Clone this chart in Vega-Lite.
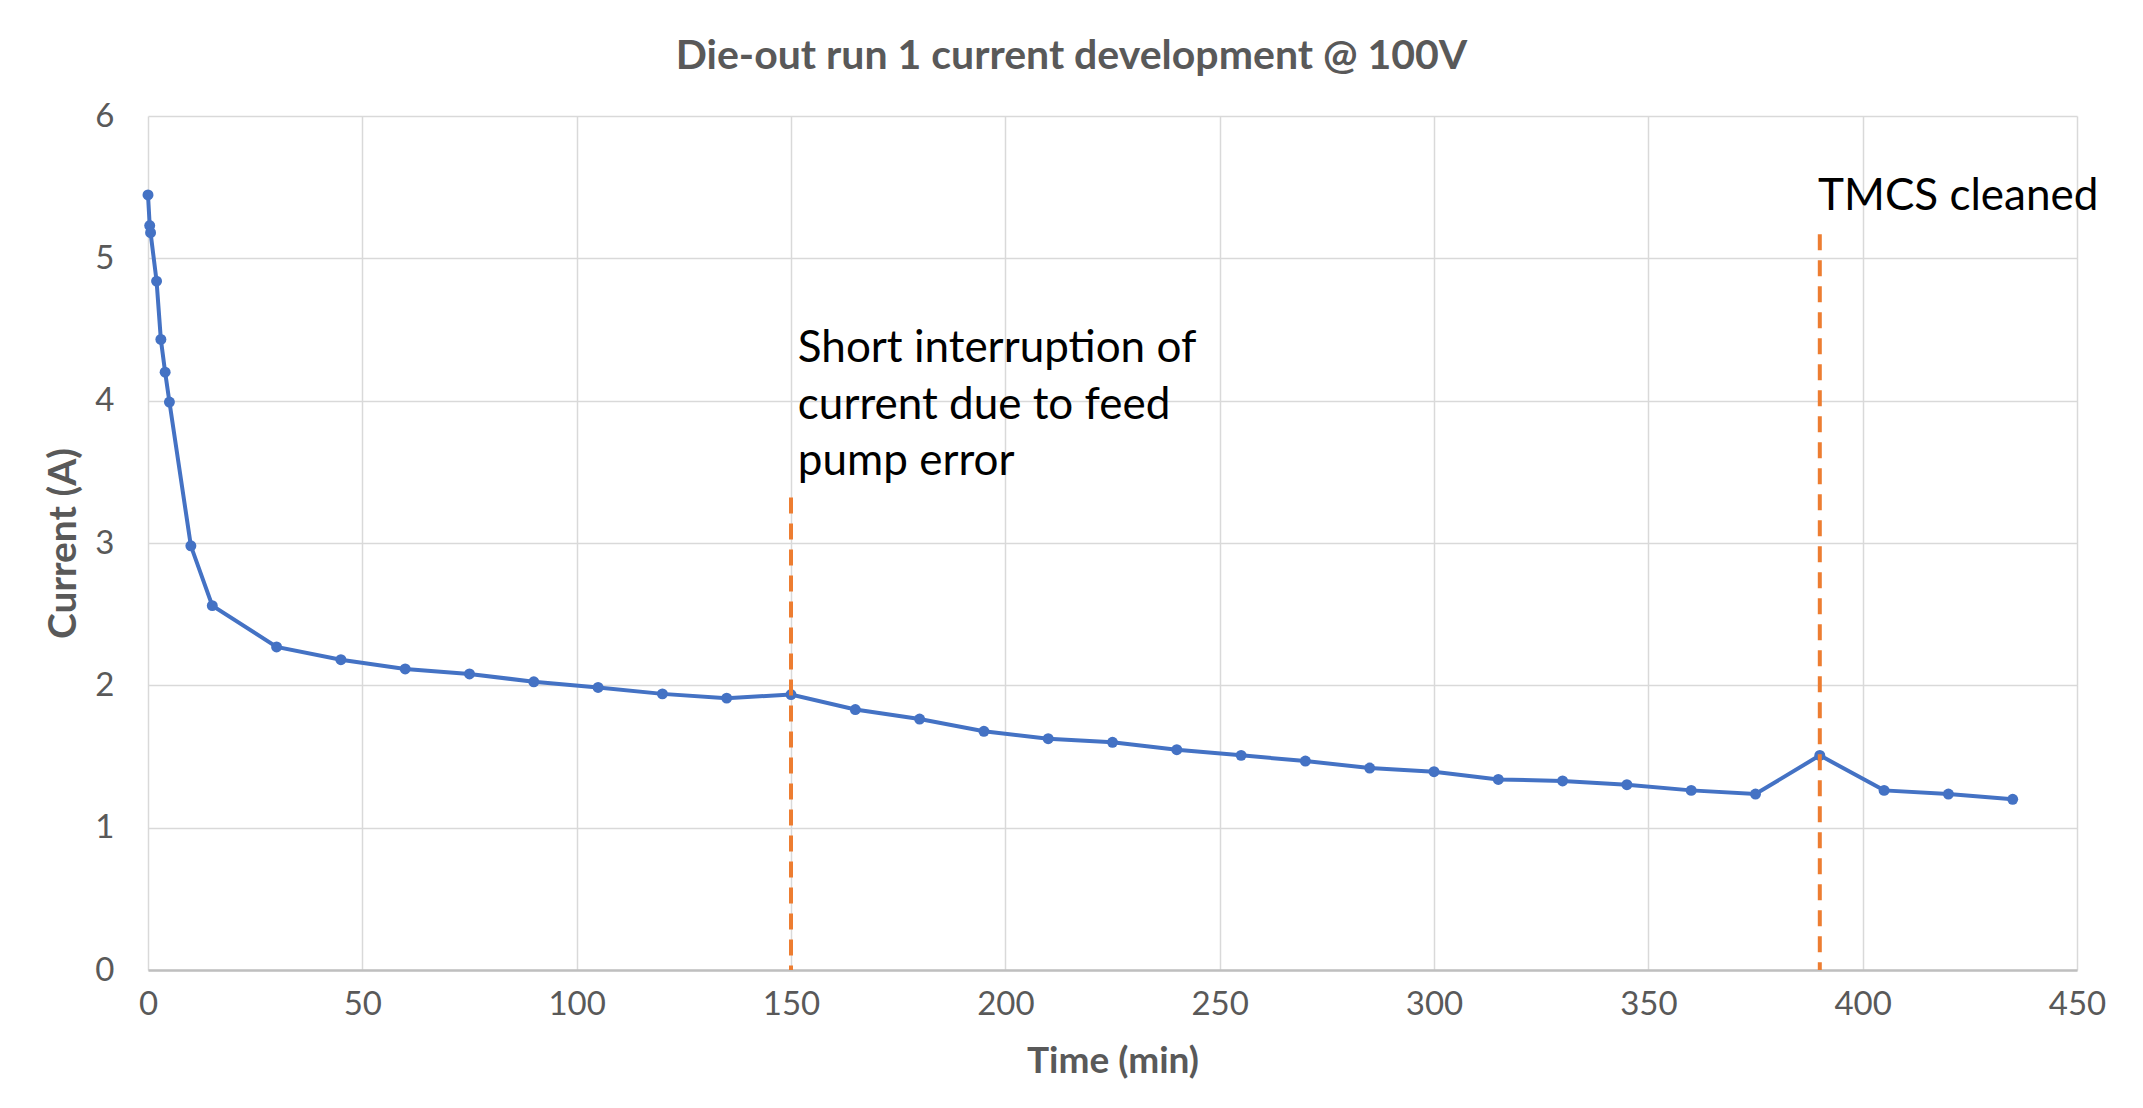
{
  "$schema": "https://vega.github.io/schema/vega-lite/v6.json",
  "width": 1929,
  "height": 854,
  "autosize": "none",
  "padding": {"left": 148, "top": 116, "right": 66, "bottom": 138},
  "background": "white",
  "title": {
    "text": "Die-out run 1 current development @ 100V",
    "anchor": "middle",
    "dx": -41,
    "dy": 40,
    "offset": 30,
    "baseline": "alphabetic",
    "font": "Lato",
    "fontSize": 41,
    "fontWeight": "bold",
    "color": "#595959"
  },
  "config": {
    "view": {"stroke": null},
    "font": "Lato"
  },
  "datasets": {
    "run": [
      {"time": 0, "current": 5.445},
      {"time": 0.4, "current": 5.23},
      {"time": 0.6, "current": 5.18},
      {"time": 2, "current": 4.84},
      {"time": 3, "current": 4.43},
      {"time": 4, "current": 4.2},
      {"time": 5, "current": 3.99},
      {"time": 10, "current": 2.98},
      {"time": 15, "current": 2.56},
      {"time": 30, "current": 2.27},
      {"time": 45, "current": 2.18},
      {"time": 60, "current": 2.115},
      {"time": 75, "current": 2.08},
      {"time": 90, "current": 2.025},
      {"time": 105, "current": 1.985},
      {"time": 120, "current": 1.94},
      {"time": 135, "current": 1.91},
      {"time": 150, "current": 1.935},
      {"time": 165, "current": 1.83},
      {"time": 180, "current": 1.763},
      {"time": 195, "current": 1.677},
      {"time": 210, "current": 1.625},
      {"time": 225, "current": 1.6},
      {"time": 240, "current": 1.548},
      {"time": 255, "current": 1.508},
      {"time": 270, "current": 1.468},
      {"time": 285, "current": 1.419},
      {"time": 300, "current": 1.393},
      {"time": 315, "current": 1.339},
      {"time": 330, "current": 1.328},
      {"time": 345, "current": 1.302},
      {"time": 360, "current": 1.262},
      {"time": 375, "current": 1.236},
      {"time": 390, "current": 1.508},
      {"time": 405, "current": 1.262},
      {"time": 420, "current": 1.236},
      {"time": 435, "current": 1.199}
    ],
    "events": [
      {"time": 150, "top": 3.32, "bottom": 0, "labelX": 151.6, "labelY": 4.272, "note": "Short interruption of\ncurrent due to feed\npump error"},
      {"time": 390, "top": 5.17, "bottom": 0, "labelX": 389.6, "labelY": 5.338, "note": "TMCS cleaned"}
    ]
  },
  "encoding": {
    "x": {
      "field": "time",
      "type": "quantitative",
      "scale": {"domain": [0, 450], "nice": false, "zero": false},
      "axis": {
        "values": [0, 50, 100, 150, 200, 250, 300, 350, 400, 450],
        "title": "Time (min)",
        "grid": true,
        "gridColor": "#D9D9D9",
        "gridWidth": 1.5,
        "domain": true,
        "domainColor": "#BFBFBF",
        "domainWidth": 2.5,
        "ticks": false,
        "labelFont": "Lato",
        "labelFontSize": 33,
        "labelColor": "#595959",
        "labelPadding": 18,
        "labelFlush": false,
        "titleFont": "Lato",
        "titleFontSize": 37,
        "titleFontWeight": "bold",
        "titleColor": "#595959",
        "titlePadding": 22
      }
    }
  },
  "layer": [
    {
      "data": {"name": "run"},
      "mark": {"type": "line", "color": "#4472C4", "strokeWidth": 4},
      "encoding": {
        "y": {
          "field": "current",
          "type": "quantitative",
          "scale": {"domain": [0, 6], "nice": false},
          "axis": {
            "values": [0, 1, 2, 3, 4, 5, 6],
            "format": "d",
            "title": "Current (A)",
            "grid": true,
            "gridColor": "#D9D9D9",
            "gridWidth": 1.5,
            "domain": false,
            "ticks": false,
            "labelFont": "Lato",
            "labelFontSize": 33,
            "labelColor": "#595959",
            "labelPadding": 34,
            "labelFlush": false,
            "titleFont": "Lato",
            "titleFontSize": 39,
            "titleFontWeight": "bold",
            "titleColor": "#595959",
            "titlePadding": 11
          }
        }
      }
    },
    {
      "data": {"name": "run"},
      "mark": {"type": "point", "shape": "circle", "filled": true, "opacity": 1, "color": "#4472C4", "size": 120},
      "encoding": {
        "y": {"field": "current", "type": "quantitative"}
      }
    },
    {
      "data": {"name": "events"},
      "mark": {"type": "rule", "color": "#ED7D31", "strokeWidth": 4, "strokeDash": [16, 10]},
      "encoding": {
        "y": {"field": "top", "type": "quantitative"},
        "y2": {"field": "bottom"}
      }
    },
    {
      "data": {"name": "events"},
      "mark": {
        "type": "text",
        "align": "left",
        "baseline": "alphabetic",
        "lineBreak": "\n",
        "lineHeight": 56.7,
        "font": "Lato",
        "fontSize": 44,
        "color": "#000000"
      },
      "encoding": {
        "x": {"field": "labelX", "type": "quantitative"},
        "y": {"field": "labelY", "type": "quantitative"},
        "text": {"field": "note", "type": "nominal"}
      }
    }
  ]
}
